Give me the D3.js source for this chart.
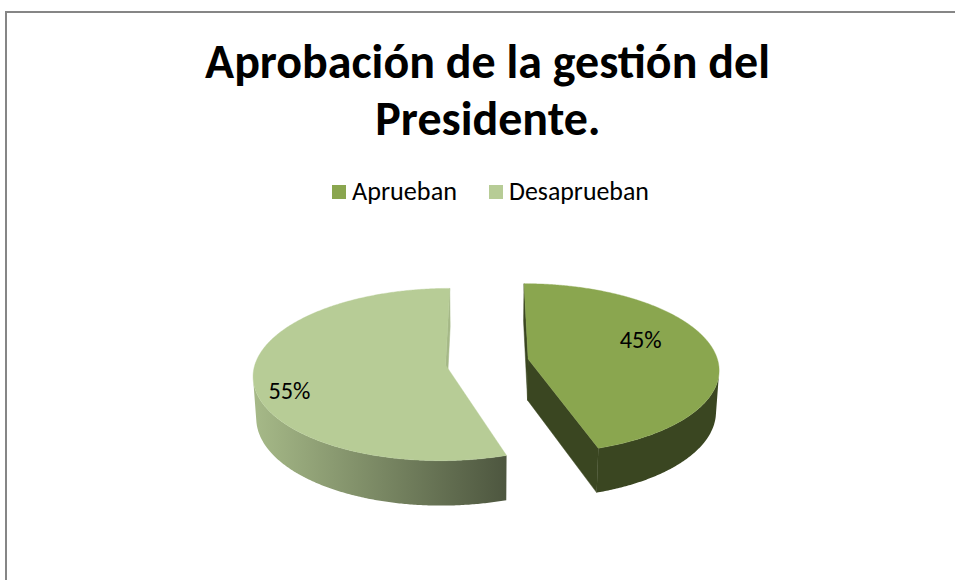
<!DOCTYPE html>
<html>
<head>
<meta charset="utf-8">
<script src="https://cdn.jsdelivr.net/npm/d3@7"></script>
<style>
  html, body { margin: 0; padding: 0; background: #ffffff; }
  svg { display: block; }
  text { font-family: Carlito, Calibri, Lato, "Open Sans", sans-serif; }
</style>
</head>
<body>
<svg id="chart" width="955" height="580"></svg>
<script>
// Chart data
const titleLines = ["Aprobación de la gestión del", "Presidente."];
const categories = ["Aprueban", "Desaprueban"];
const values = [45, 55];
const valueLabels = ["45%", "55%"];
const sliceColors = ["#8AA64F", "#B7CC96"];

const W = 955, H = 580;
const svg = d3.select("#chart");

// Outer chart frame (runs off the right and bottom edges)
svg.append("rect")
  .attr("x", 6).attr("y", 12)
  .attr("width", 1200).attr("height", 1200)
  .attr("fill", "none").attr("stroke", "#868686").attr("stroke-width", 2);

// Fit a text element's font size so its width matches a target width
function fitWidth(sel, target, startSize) {
  sel.attr("font-size", startSize);
  const w = sel.node().getComputedTextLength();
  sel.attr("font-size", startSize * target / w);
}

// Title
const t1 = svg.append("text").text(titleLines[0])
  .attr("x", 487.5).attr("y", 78).attr("text-anchor", "middle")
  .attr("font-weight", "bold").attr("fill", "#000");
fitWidth(t1, 565, 46);
const t2 = svg.append("text").text(titleLines[1])
  .attr("x", 488).attr("y", 135).attr("text-anchor", "middle")
  .attr("font-weight", "bold").attr("fill", "#000")
  .attr("font-size", t1.attr("font-size"));

// Legend
const color = d3.scaleOrdinal(categories, sliceColors);
const legendX = [332, 489];
const legendTextW = [105, 140];
categories.forEach((c, i) => {
  svg.append("rect")
    .attr("x", legendX[i]).attr("y", 185)
    .attr("width", 14).attr("height", 14)
    .attr("fill", color(c));
  const lt = svg.append("text").text(c)
    .attr("x", legendX[i] + 20).attr("y", 200)
    .attr("fill", "#000");
  fitWidth(lt, legendTextW[i], 22);
});

// ---- 3D exploded pie ----
const cx = 487, cy = 362;          // screen position of pie centre (top face)
const tilt = Math.asin(0.4444);     // camera elevation
const camDist = 8.064;              // camera distance, in pie radii
const focal = 1532;                 // focal length, px
const depth = 0.245;                // slab thickness, in pie radii
const explode = 0.22;               // slice offset, in pie radii
const cosT = Math.cos(tilt), sinT = Math.sin(tilt);
const cam = [0, camDist * sinT, camDist * cosT];

function project(p) {
  const [x, y, z] = p;
  const yp = y * cosT - z * sinT;
  const zp = y * sinT + z * cosT;
  const s = focal / (camDist - zp);
  return [cx + x * s, cy - yp * s];
}

const pie = d3.pie().sort(null).value(d => d);
const arcs = pie(values);
const line = d3.line();

// side shading across the pie's screen width
const shade = d3.scaleLinear()
  .domain([project([-1 - explode, 0, 0])[0] + 2, cx + 20])
  .range([0.9, 0.42]).clamp(true);

function darken(c, k) {
  const r = d3.rgb(c);
  return d3.rgb(r.r * k, r.g * k, r.b * k).formatHex();
}

const defs = svg.append("defs");
const pieG = svg.append("g");

arcs.forEach((a, i) => {
  const base = color(categories[i]);
  const mid = (a.startAngle + a.endAngle) / 2;
  const ox = explode * Math.sin(mid), oz = -explode * Math.cos(mid);
  const rim = (t, y) => [ox + Math.sin(t), y, oz - Math.cos(t)];
  const apex = y => [ox, y, oz];
  const facing = (n, p) => n[0] * (cam[0] - p[0]) + n[1] * (cam[1] - p[1]) + n[2] * (cam[2] - p[2]) > 0;

  // gradient for the curved side
  const gid = "side" + i;
  const x0 = shade.domain()[0], x1 = shade.domain()[1];
  const grad = defs.append("linearGradient").attr("id", gid)
    .attr("gradientUnits", "userSpaceOnUse")
    .attr("x1", x0).attr("x2", x1).attr("y1", 0).attr("y2", 0);
  grad.append("stop").attr("offset", 0).attr("stop-color", darken(base, shade(x0)));
  grad.append("stop").attr("offset", 1).attr("stop-color", darken(base, shade(x1)));

  const g = pieG.append("g");

  // radial faces
  [[a.startAngle, -1], [a.endAngle, 1]].forEach(([t, sgn]) => {
    const n = [sgn * Math.cos(t), 0, sgn * Math.sin(t)];
    const pm = [ox + 0.5 * Math.sin(t), 0, oz - 0.5 * Math.cos(t)];
    if (!facing(n, pm)) return;
    const pts = [apex(0), rim(t, 0), rim(t, -depth), apex(-depth)].map(project);
    g.append("path").attr("d", line(pts) + "Z")
      .attr("fill", darken(base, n[0] > 0 ? 0.9 : 0.42))
      .attr("stroke", darken(base, n[0] > 0 ? 0.9 : 0.42)).attr("stroke-width", 0.5);
  });

  // curved outer side: contiguous visible runs
  const steps = Math.ceil((a.endAngle - a.startAngle) / (Math.PI / 360));
  const ts = d3.range(steps + 1).map(k => a.startAngle + (a.endAngle - a.startAngle) * k / steps);
  let run = [];
  const flush = () => {
    if (run.length > 1) {
      const top = run.map(t => project(rim(t, 0)));
      const bot = run.slice().reverse().map(t => project(rim(t, -depth)));
      g.append("path").attr("d", line(top.concat(bot)) + "Z")
        .attr("fill", `url(#${gid})`);
    }
    run = [];
  };
  ts.forEach(t => {
    const n = [Math.sin(t), 0, -Math.cos(t)];
    if (facing(n, rim(t, -depth / 2))) run.push(t); else flush();
  });
  flush();

  // top face
  const topPts = [project(apex(0))].concat(ts.map(t => project(rim(t, 0))));
  g.append("path").attr("d", line(topPts) + "Z")
    .attr("fill", base).attr("stroke", base).attr("stroke-width", 0.4);
});

// value labels
const labelShift = -12 * Math.PI / 180;
const labelRadius = [0.66, 0.84];
arcs.forEach((a, i) => {
  const mid = (a.startAngle + a.endAngle) / 2;
  const ox = explode * Math.sin(mid), oz = -explode * Math.cos(mid);
  const t = mid + labelShift;
  const p = project([ox + labelRadius[i] * Math.sin(t), 0, oz - labelRadius[i] * Math.cos(t)]);
  const lt = svg.append("text").text(valueLabels[i])
    .attr("x", p[0]).attr("y", p[1])
    .attr("text-anchor", "middle").attr("dominant-baseline", "central")
    .attr("fill", "#000");
  fitWidth(lt, 42, 22);
});
</script>
</body>
</html>
